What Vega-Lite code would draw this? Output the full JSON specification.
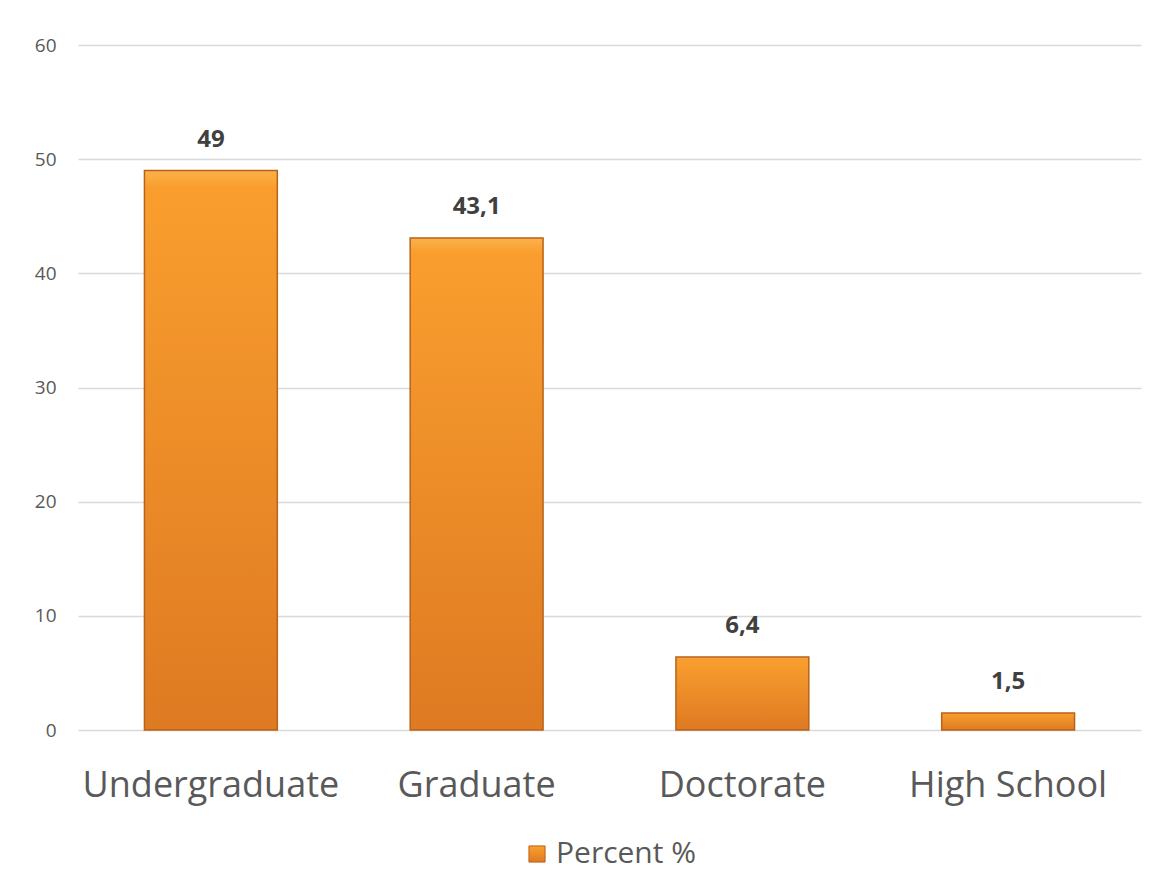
{
  "$schema": "https://vega.github.io/schema/vega-lite/v6.json",
  "width": 1063,
  "height": 685,
  "autosize": {"type": "none"},
  "padding": {"left": 78, "top": 45, "right": 19, "bottom": 162},
  "background": "white",
  "config": {
    "font": "Open Sans",
    "view": {"stroke": null},
    "locale": {"number": {"decimal": ",", "thousands": ".", "grouping": [3], "currency": ["", " €"]}}
  },
  "data": {
    "values": [
      {"level": "Undergraduate", "value": 49, "series": "Percent %"},
      {"level": "Graduate", "value": 43.1, "series": "Percent %"},
      {"level": "Doctorate", "value": 6.4, "series": "Percent %"},
      {"level": "High School", "value": 1.5, "series": "Percent %"}
    ]
  },
  "encoding": {
    "x": {
      "field": "level",
      "type": "nominal",
      "sort": null,
      "scale": {"paddingInner": 0.5, "paddingOuter": 0.25},
      "axis": {
        "title": null,
        "labelAngle": 0,
        "labelFontSize": 36,
        "labelColor": "#595959",
        "labelPadding": 38,
        "labelLimit": 0,
        "ticks": false,
        "domain": false,
        "grid": false
      }
    },
    "y": {
      "field": "value",
      "type": "quantitative",
      "scale": {"domain": [0, 60]},
      "axis": {
        "title": null,
        "values": [0, 10, 20, 30, 40, 50, 60],
        "labelFontSize": 19,
        "labelColor": "#595959",
        "labelPadding": 22,
        "ticks": false,
        "domain": false,
        "gridColor": "#D9D9D9",
        "gridWidth": 1.5
      }
    }
  },
  "layer": [
    {
      "mark": {
        "type": "bar",
        "fill": {
          "gradient": "linear",
          "x1": 0, "y1": 0, "x2": 0, "y2": 1,
          "stops": [
            {"offset": 0, "color": "#FBB24A"},
            {"offset": 0.03, "color": "#F99E2E"},
            {"offset": 1, "color": "#DE7A22"}
          ]
        },
        "strokeWidth": 1.5
      },
      "encoding": {
        "stroke": {
          "field": "series",
          "type": "nominal",
          "scale": {"range": ["#B8621B"]},
          "legend": {
            "title": null,
            "orient": "none",
            "legendX": 444,
            "legendY": 794,
            "symbolType": "square",
            "symbolSize": 260,
            "symbolFillColor": "#F39A2E",
            "symbolStrokeColor": "#B8621B",
            "symbolStrokeWidth": 1,
            "labelFontSize": 30,
            "labelColor": "#595959",
            "labelOffset": 4
          }
        }
      }
    },
    {
      "mark": {
        "type": "text",
        "baseline": "alphabetic",
        "dy": -24,
        "fontSize": 24,
        "fontWeight": "bold",
        "color": "#404040"
      },
      "encoding": {
        "text": {"field": "value", "type": "quantitative", "format": ".1~f"}
      }
    }
  ]
}
